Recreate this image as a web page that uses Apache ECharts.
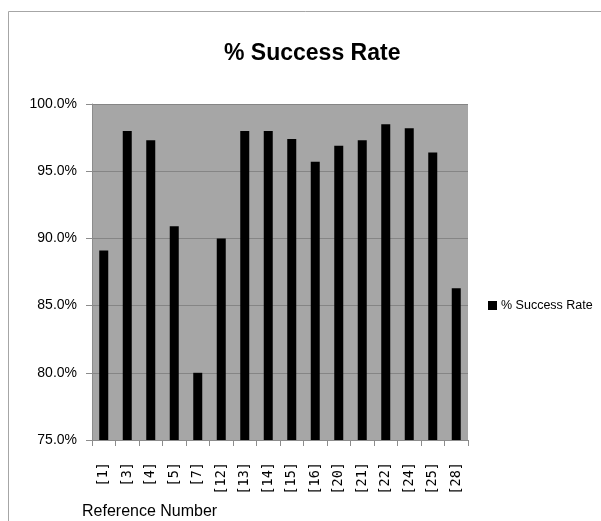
<!DOCTYPE html>
<html>
<head>
<meta charset="utf-8">
<script src="https://cdn.jsdelivr.net/npm/echarts@6/dist/echarts.min.js"></script>
<style>
html,body{margin:0;padding:0;background:#fff;}
#c{width:601px;height:521px;}
</style>
</head>
<body>
<div id="c"></div>
<script>
var categories = ['[1]','[3]','[4]','[5]','[7]','[12]','[13]','[14]','[15]','[16]','[20]','[21]','[22]','[24]','[25]','[28]'];
var successRate = [89.1, 98.0, 97.3, 90.9, 80.0, 90.0, 98.0, 98.0, 97.4, 95.7, 96.9, 97.3, 98.5, 98.2, 96.4, 86.3];
var seriesName = '% Success Rate';
var chartTitle = '% Success Rate';
var xAxisName = 'Reference Number';
var yMin = 75, yMax = 100, yStep = 5;

var FONT = '"Liberation Sans", Arial, sans-serif';
var chart = echarts.init(document.getElementById('c'), null, {renderer: 'canvas'});
chart.setOption({
  animation: false,
  backgroundColor: '#ffffff',
  graphic: [{
    type: 'rect',
    shape: {x: 8.5, y: 11.5, width: 620, height: 540},
    style: {fill: 'none', stroke: '#a6a6a6', lineWidth: 1},
    silent: true
  }],
  title: {
    text: chartTitle,
    left: 219,
    top: 37,
    textStyle: {fontFamily: FONT, fontWeight: 'bold', fontSize: 23, color: '#000'}
  },
  legend: {
    data: [seriesName],
    left: 483,
    top: 294,
    itemWidth: 9,
    itemHeight: 9,
    itemGap: 5,
    icon: 'rect',
    textStyle: {fontFamily: FONT, fontSize: 12.5, color: '#000', padding: [0,0,0,-1]}
  },
  grid: {left: 92, right: 133, top: 104, bottom: 81, containLabel: false, outerBoundsMode: 'none',
         show: true, backgroundColor: '#a6a6a6', borderWidth: 0},
  xAxis: {
    type: 'category',
    data: categories,
    name: xAxisName,
    nameLocation: 'start',
    nameGap: 10,
    nameTextStyle: {fontFamily: FONT, fontSize: 16, color: '#000', align: 'left', verticalAlign: 'top', padding: [64,0,0,0]},
    axisLine: {lineStyle: {color: '#8c8c8c'}},
    axisTick: {show: true, alignWithLabel: false, length: 6, lineStyle: {color: '#8c8c8c'}},
    axisLabel: {rotate: 90, margin: 22, interval: 0, fontFamily: 'DejaVu Sans Mono', fontSize: 13.5, color: '#000'},
    splitLine: {show: false}
  },
  yAxis: {
    type: 'value',
    min: yMin,
    max: yMax,
    interval: yStep,
    axisLine: {show: true, lineStyle: {color: '#8c8c8c'}},
    axisTick: {show: true, length: 6, lineStyle: {color: '#8c8c8c'}},
    axisLabel: {margin: 15, fontFamily: FONT, fontSize: 14, color: '#000',
                formatter: function (v) { return v.toFixed(1) + '%'; }},
    splitLine: {show: true, lineStyle: {color: '#858585', width: 1}}
  },
  series: [{
    name: seriesName,
    type: 'bar',
    data: successRate,
    barWidth: 9,
    itemStyle: {color: '#000000'}
  }]
});
</script>
</body>
</html>
